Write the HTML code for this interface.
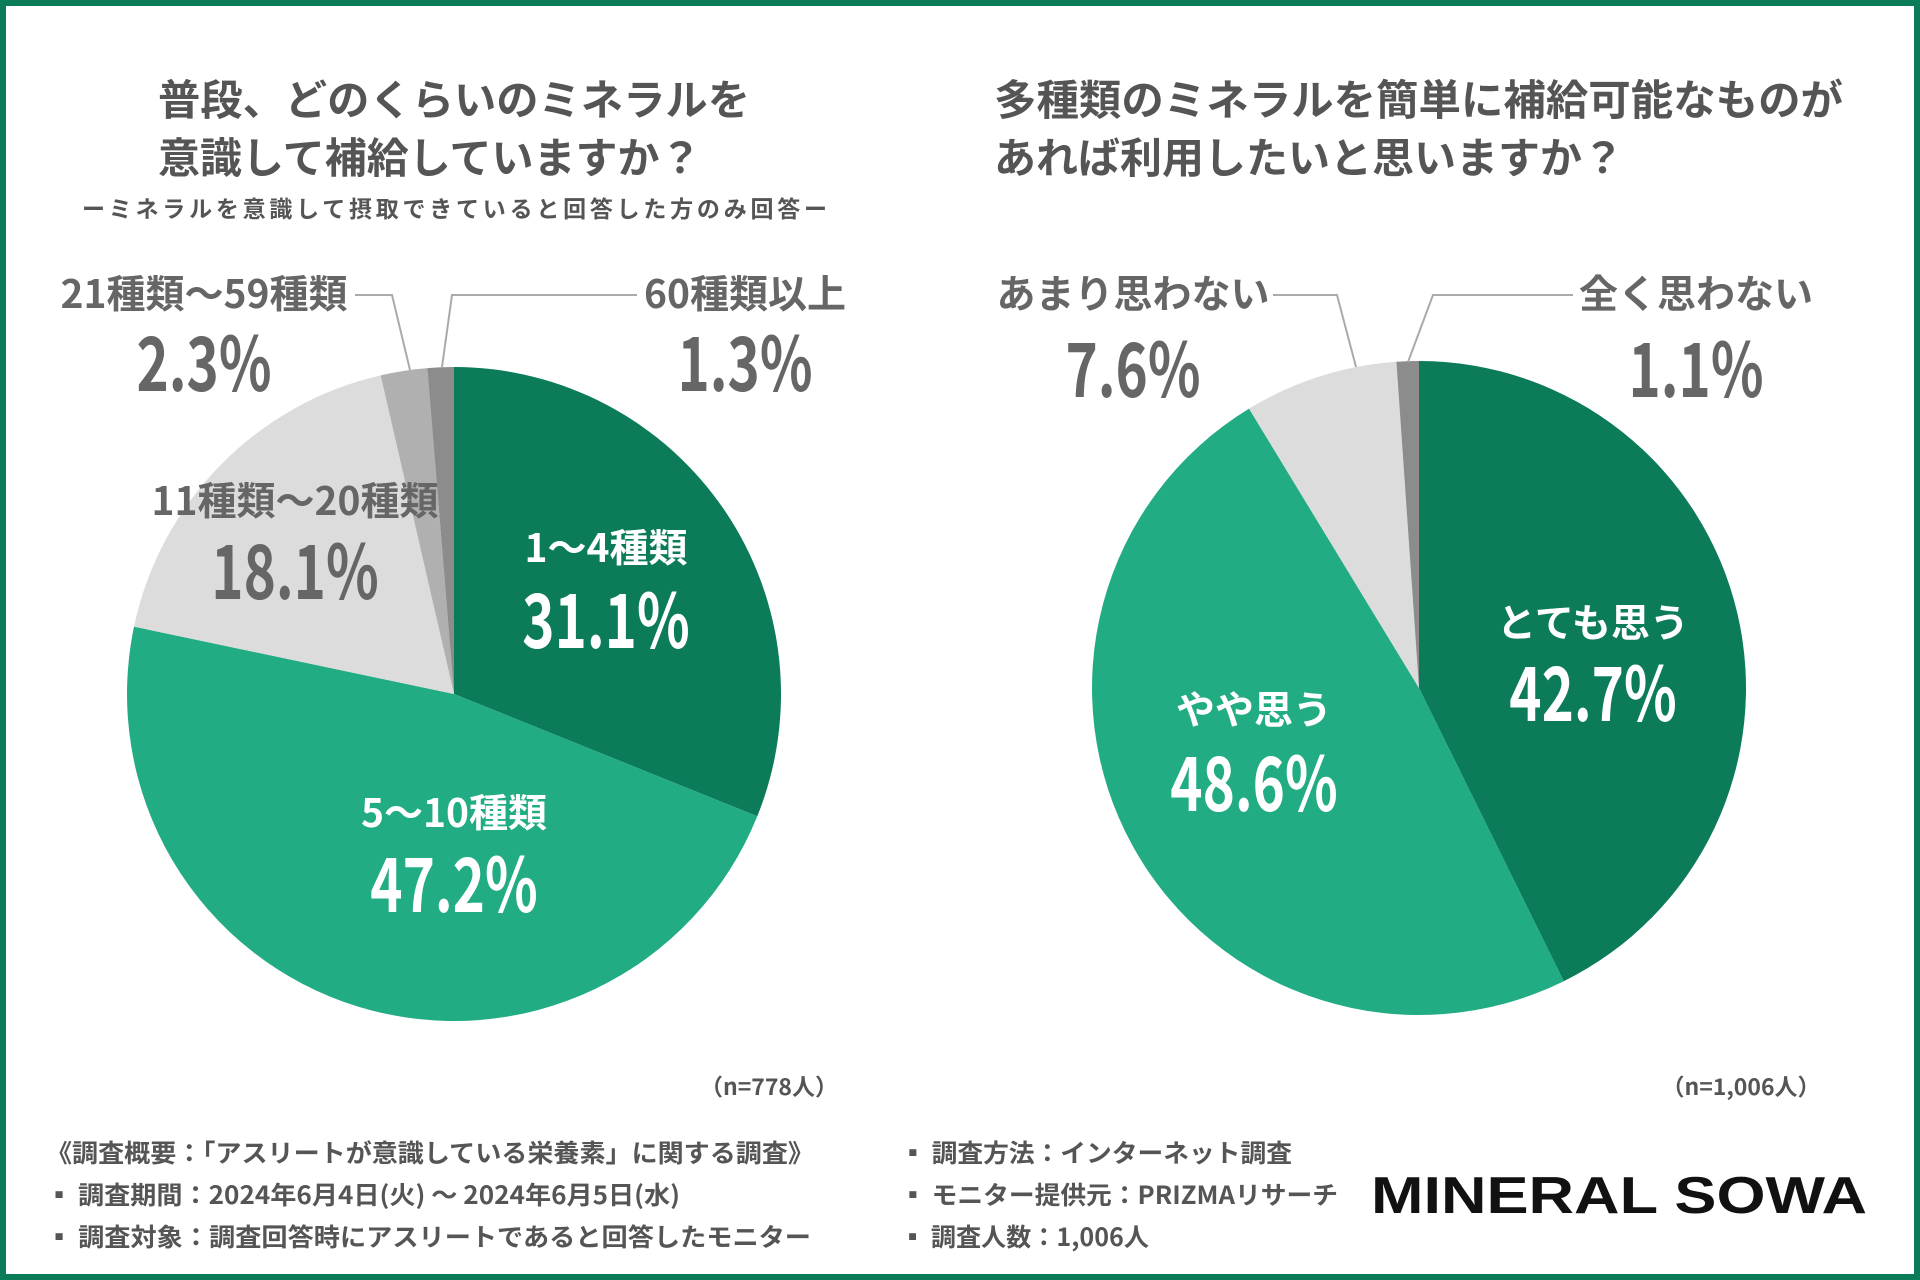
<!DOCTYPE html>
<html><head><meta charset="utf-8">
<style>
html,body{margin:0;padding:0;background:#fff;}
svg{display:block;}
text{font-family:"Liberation Sans","Noto Sans CJK JP",sans-serif;font-weight:bold;}
.jp{font-family:"Noto Sans CJK JP","Liberation Sans",sans-serif;}
</style></head>
<body>
<svg id="chart" width="1920" height="1280" viewBox="0 0 1920 1280" xmlns="http://www.w3.org/2000/svg">
<rect x="3" y="3" width="1914" height="1274" fill="#fff" stroke="#0b7b5a" stroke-width="6"/>

<g class="jp" fill="#555">
<text class="jp" x="158" y="115" font-size="42" textLength="592" lengthAdjust="spacingAndGlyphs">普段、どのくらいのミネラルを</text>
<text class="jp" x="158" y="173" font-size="42">意識して補給していますか？</text>
<text class="jp" x="82" y="217" font-size="23" textLength="745">ーミネラルを意識して摂取できていると回答した方のみ回答ー</text>
</g>
<g fill="#555">
<text class="jp" x="994" y="115" font-size="42" textLength="849" lengthAdjust="spacingAndGlyphs">多種類のミネラルを簡単に補給可能なものが</text>
<text class="jp" x="994" y="173" font-size="42">あれば利用したいと思いますか？</text>
</g>

<g id="pie-left"></g>
<g id="pie-right"></g>

<g stroke="#aaa" stroke-width="2" fill="none">
<polyline points="410,370 392,295 355,295"/>
<polyline points="442,367 452,295 637,295"/>
<polyline points="1356,367 1337,295 1273,295"/>
<polyline points="1408,362 1433,295 1573,295"/>
</g>

<g id="labels" text-anchor="middle"></g>

<g fill="#555" font-size="23" text-anchor="middle">
<text class="jp" x="769" y="1095">（n=778人）</text>
<text class="jp" x="1741" y="1095">（n=1,006人）</text>
</g>

<g fill="#555" font-size="25">
<text class="jp" x="46" y="1162" textLength="768" lengthAdjust="spacingAndGlyphs">《調査概要：「アスリートが意識している栄養素」に関する調査》</text>
<text class="jp" x="46" y="1204" textLength="634" lengthAdjust="spacingAndGlyphs">▪ 調査期間：2024年6月4日(火) 〜 2024年6月5日(水)</text>
<text class="jp" x="46" y="1246" textLength="765" lengthAdjust="spacingAndGlyphs">▪ 調査対象：調査回答時にアスリートであると回答したモニター</text>
<text class="jp" x="900" y="1162" textLength="392" lengthAdjust="spacingAndGlyphs">▪ 調査方法：インターネット調査</text>
<text class="jp" x="900" y="1204" textLength="438" lengthAdjust="spacingAndGlyphs">▪ モニター提供元：PRIZMAリサーチ</text>
<text class="jp" x="900" y="1246" textLength="249" lengthAdjust="spacingAndGlyphs">▪ 調査人数：1,006人</text>
</g>
<text x="1371" y="1213" font-size="52" fill="#111" font-weight="900" textLength="496" lengthAdjust="spacingAndGlyphs">MINERAL SOWA</text>
</svg>
<script>
const leftCategories = ["1〜4種類","5〜10種類","11種類〜20種類","21種類〜59種類","60種類以上"];
const leftValues = [31.1, 47.2, 18.1, 2.3, 1.3];
const rightCategories = ["とても思う","やや思う","あまり思わない","全く思わない"];
const rightValues = [42.7, 48.6, 7.6, 1.1];
const leftColors = ["#0b7b5a","#22ac84","#dcdcdc","#b0b0b0","#8c8c8c"];
const rightColors = ["#0b7b5a","#22ac84","#dcdcdc","#8c8c8c"];
const NS = "http://www.w3.org/2000/svg";

function drawPie(gid, cx, cy, r, vals, colors, cats) {
  const g = document.getElementById(gid);
  const total = vals.reduce((a,b)=>a+b,0);
  let a0 = 0;
  vals.forEach((v,i)=>{
    const a1 = a0 + v/total*2*Math.PI;
    const x0 = cx + r*Math.sin(a0), y0 = cy - r*Math.cos(a0);
    const x1 = cx + r*Math.sin(a1), y1 = cy - r*Math.cos(a1);
    const large = (a1-a0) > Math.PI ? 1 : 0;
    const p = document.createElementNS(NS,"path");
    p.setAttribute("d",`M${cx},${cy} L${x0},${y0} A${r},${r} 0 ${large} 1 ${x1},${y1} Z`);
    p.setAttribute("fill",colors[i]);
    
    
    g.appendChild(p);
    a0 = a1;
  });
}
drawPie("pie-left", 454, 694, 327, leftValues, leftColors, leftCategories);
drawPie("pie-right", 1419, 688, 327, rightValues, rightColors, rightCategories);

const leftLabelPos = [[606,549,621,"#fff"],[454,814,885,"#fff"],[295,502,572,"#666"],[204,295,364,"#666"],[745,295,364,"#666"]];
const rightLabelPos = [[1593,624,694,"#fff"],[1254,711,784,"#fff"],[1133,295,370,"#666"],[1696,295,370,"#666"]];
const lg = document.getElementById("labels");
function addLabels(cats, vals, pos) {
  cats.forEach((c,i)=>{
    const [x,y1,y2,col] = pos[i];
    const t = document.createElementNS(NS,"text");
    t.setAttribute("x",x); t.setAttribute("y",y1+13);
    t.setAttribute("font-size","39"); t.setAttribute("fill",col);
    t.setAttribute("class","jp");
    t.textContent = c;
    
    
    lg.appendChild(t);
    const p = document.createElementNS(NS,"text");
    p.setAttribute("x",x); p.setAttribute("y",y2+27);
    p.setAttribute("font-size","75"); p.setAttribute("fill",col);
    p.setAttribute("class","jp");
    p.textContent = vals[i].toFixed(1) + "%";
    
    
    lg.appendChild(p);
    const w = p.getComputedTextLength();
    if (w > 0) {
      p.setAttribute("textLength", (w*0.73).toFixed(1));
      p.setAttribute("lengthAdjust", "spacingAndGlyphs");
    }
  });
}
addLabels(leftCategories, leftValues, leftLabelPos);
addLabels(rightCategories, rightValues, rightLabelPos);
</script>
</body></html>
